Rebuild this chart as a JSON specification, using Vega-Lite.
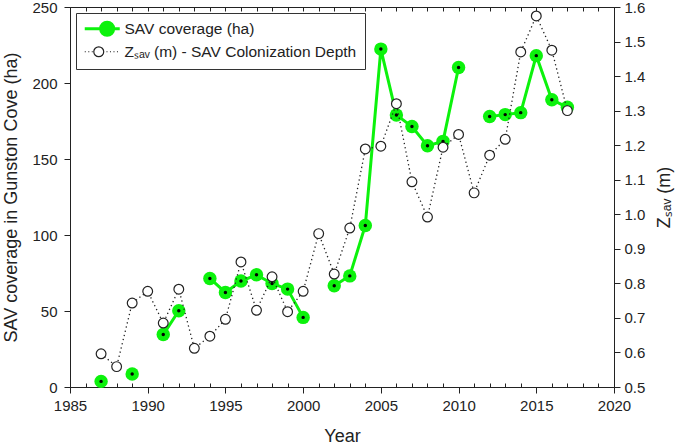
{
  "$schema": "https://vega.github.io/schema/vega-lite/v6.json",
  "width": 544,
  "height": 380,
  "autosize": {"type": "none"},
  "padding": {"left": 70, "top": 7, "right": 71, "bottom": 61},
  "background": "white",
  "config": {
    "view": {"stroke": "#222", "strokeWidth": 1},
    "font": "Liberation Sans",
    "axis": {"domainColor": "#222", "tickColor": "#222", "labelColor": "#222", "titleColor": "#222", "labelFont": "Liberation Sans", "titleFont": "Liberation Sans", "labelFontSize": 15, "titleFontSize": 18, "titleFontWeight": "normal", "grid": false}
  },
  "datasets": {
    "sav": [
      {"Year": 1987, "ha": 3.7}, {"Year": 1988, "ha": null}, {"Year": 1989, "ha": 8.5}, {"Year": 1990, "ha": null},
      {"Year": 1991, "ha": 34.5}, {"Year": 1992, "ha": 50.2}, {"Year": 1993, "ha": null}, {"Year": 1994, "ha": 71.4},
      {"Year": 1995, "ha": 62.2}, {"Year": 1996, "ha": 69.7}, {"Year": 1997, "ha": 73.8}, {"Year": 1998, "ha": 68.1},
      {"Year": 1999, "ha": 64.4}, {"Year": 2000, "ha": 45.8}, {"Year": 2001, "ha": null}, {"Year": 2002, "ha": 66.6},
      {"Year": 2003, "ha": 73.1}, {"Year": 2004, "ha": 106.3}, {"Year": 2005, "ha": 222.3}, {"Year": 2006, "ha": 179},
      {"Year": 2007, "ha": 171.4}, {"Year": 2008, "ha": 158.7}, {"Year": 2009, "ha": 161.6}, {"Year": 2010, "ha": 210.2},
      {"Year": 2011, "ha": null}, {"Year": 2012, "ha": 178}, {"Year": 2013, "ha": 179.2}, {"Year": 2014, "ha": 180.5},
      {"Year": 2015, "ha": 218}, {"Year": 2016, "ha": 189}, {"Year": 2017, "ha": 184}
    ],
    "zsav": [
      {"Year": 1987, "z": 0.596}, {"Year": 1988, "z": 0.559}, {"Year": 1989, "z": 0.743}, {"Year": 1990, "z": 0.777},
      {"Year": 1991, "z": 0.685}, {"Year": 1992, "z": 0.783}, {"Year": 1993, "z": 0.612}, {"Year": 1994, "z": 0.647},
      {"Year": 1995, "z": 0.696}, {"Year": 1996, "z": 0.862}, {"Year": 1997, "z": 0.722}, {"Year": 1998, "z": 0.819},
      {"Year": 1999, "z": 0.718}, {"Year": 2000, "z": 0.777}, {"Year": 2001, "z": 0.944}, {"Year": 2002, "z": 0.827},
      {"Year": 2003, "z": 0.96}, {"Year": 2004, "z": 1.189}, {"Year": 2005, "z": 1.197}, {"Year": 2006, "z": 1.32},
      {"Year": 2007, "z": 1.094}, {"Year": 2008, "z": 0.992}, {"Year": 2009, "z": 1.194}, {"Year": 2010, "z": 1.231},
      {"Year": 2011, "z": 1.062}, {"Year": 2012, "z": 1.171}, {"Year": 2013, "z": 1.217}, {"Year": 2014, "z": 1.47},
      {"Year": 2015, "z": 1.574}, {"Year": 2016, "z": 1.475}, {"Year": 2017, "z": 1.30}
    ]
  },
  "resolve": {"scale": {"y": "independent"}, "axis": {"x": "independent"}},
  "layer": [
    {
      "data": {"name": "sav"},
      "encoding": {
        "x": {
          "field": "Year", "type": "quantitative",
          "scale": {"domain": [1985, 2020], "nice": false, "zero": false},
          "axis": {
            "orient": "bottom",
            "title": "Year", "titlePadding": 14,
            "values": [1985,1986,1987,1988,1989,1990,1991,1992,1993,1994,1995,1996,1997,1998,1999,2000,2001,2002,2003,2004,2005,2006,2007,2008,2009,2010,2011,2012,2013,2014,2015,2016,2017,2018,2019,2020],
            "labelExpr": "datum.value % 5 === 0 ? datum.value + '' : ''",
            "labelOverlap": false, "labelFlush": false,
            "tickSize": {"condition": {"test": "datum.value % 5 === 0", "value": 6}, "value": -4},
            "labelPadding": 5
          }
        },
        "y": {
          "field": "ha", "type": "quantitative",
          "scale": {"domain": [0, 250], "nice": false},
          "axis": {"orient": "left", "title": "SAV coverage in Gunston Cove (ha)", "values": [0, 50, 100, 150, 200, 250], "tickSize": 6, "labelPadding": 7, "titlePadding": 11}
        }
      },
      "layer": [
        {
          "mark": {"type": "line", "strokeWidth": 3},
          "encoding": {
            "color": {
              "datum": "SAV coverage (ha)",
              "scale": {"domain": ["SAV coverage (ha)", "Zₛₐᵥ (m) - SAV Colonization Depth"], "range": ["#0cf20c", "#222222"]},
              "legend": {
                "title": null, "orient": "top-left", "offset": 6, "labelLimit": 0,
                "strokeColor": "#333", "fillColor": "white", "padding": 8,
                "labelFont": "Liberation Sans", "labelFontSize": 15.5, "labelColor": "#222",
                "symbolSize": 196, "rowPadding": 2, "labelOffset": 25,
                "encode": {
                  "symbols": {
                    "update": {
                      "shape": {"signal": "datum.value === 'SAV coverage (ha)' ? 'M-1,0L4,0M1.27,0A0.93,0.93,0,1,1,3.13,0A0.93,0.93,0,1,1,1.27,0' : 'M-1,0L-0.85,0M-0.5,0L-0.35,0M0,0L0.15,0M2.1,0L2.25,0M2.6,0L2.75,0M3.1,0L3.25,0M3.6,0L3.75,0M0.29,0A0.71,0.71,0,1,1,1.71,0A0.71,0.71,0,1,1,0.29,0'"},
                      "fill": {"signal": "datum.value === 'SAV coverage (ha)' ? '#0cf20c' : 'white'"},
                      "stroke": {"signal": "datum.value === 'SAV coverage (ha)' ? '#0cf20c' : '#222222'"},
                      "strokeWidth": {"signal": "datum.value === 'SAV coverage (ha)' ? 3 : 1.2"},
                      "strokeDash": {"value": []},
                      "opacity": {"value": 1}
                    }
                  }
                }
              }
            }
          }
        },
        {"mark": {"type": "point", "filled": true, "shape": "circle", "size": 180, "color": "#0cf20c", "opacity": 1}},
        {"mark": {"type": "point", "filled": true, "shape": "circle", "size": 12, "color": "#000000", "opacity": 1}}
      ]
    },
    {
      "data": {"name": "zsav"},
      "encoding": {
        "x": {
          "field": "Year", "type": "quantitative",
          "scale": {"domain": [1985, 2020], "nice": false, "zero": false},
          "axis": {
            "orient": "top", "title": null, "labels": false, "domain": false,
            "values": [1985,1986,1987,1988,1989,1990,1991,1992,1993,1994,1995,1996,1997,1998,1999,2000,2001,2002,2003,2004,2005,2006,2007,2008,2009,2010,2011,2012,2013,2014,2015,2016,2017,2018,2019,2020],
            "tickSize": -4
          }
        },
        "y": {
          "field": "z", "type": "quantitative",
          "scale": {"domain": [0.5, 1.6], "nice": false, "zero": false},
          "axis": {"orient": "right", "title": "Zₛₐᵥ (m)", "titleAngle": 270, "titleBaseline": "top", "values": [0.5, 0.6, 0.7, 0.8, 0.9, 1.0, 1.1, 1.2, 1.3, 1.4, 1.5, 1.6], "format": ".1f", "tickSize": 6, "labelPadding": 4, "titlePadding": 11}
        }
      },
      "layer": [
        {
          "mark": {"type": "line", "strokeWidth": 1.3, "strokeDash": [1.3, 3]},
          "encoding": {"color": {"datum": "Zₛₐᵥ (m) - SAV Colonization Depth"}}
        },
        {"mark": {"type": "point", "filled": false, "shape": "circle", "size": 95, "stroke": "#222222", "fill": "white", "fillOpacity": 1, "strokeWidth": 1.2, "opacity": 1}}
      ]
    }
  ]
}
